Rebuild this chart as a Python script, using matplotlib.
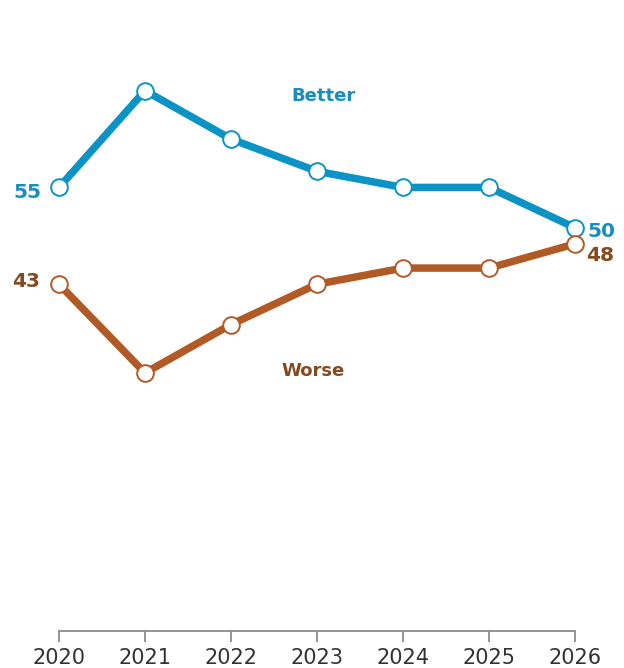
import matplotlib
matplotlib.use("Agg")
import matplotlib.pyplot as plt

years = [2020, 2021, 2022, 2023, 2024, 2025, 2026]
better = [55, 67, 61, 57, 55, 55, 50]
worse = [43, 32, 38, 43, 45, 45, 48]
year_labels = [str(y) for y in years]

BLUE = "#0B93C6"
BLUE_TXT = "#1A8DC0"
BROWN = "#B25A26"
BROWN_TXT = "#854A1E"

fig = plt.figure(figsize=(6.24, 6.68), dpi=100)
ax = fig.add_axes([59 / 624, 37 / 668, 516 / 624, 621 / 668])
ax.set_xlim(years[0], years[-1])
ax.set_ylim(0, 77)

for vals, col in [(better, BLUE), (worse, BROWN)]:
    ax.plot(years, vals, color=col, lw=5.4, solid_capstyle="round",
            marker="o", ms=12, mfc="white", mec=col, mew=1.4,
            clip_on=False, zorder=3)

font = dict(family="DejaVu Sans", fontweight="bold")
ax.text(years[0] - 0.2, better[0] - 0.6, str(better[0]), color=BLUE_TXT,
        fontsize=14.5, ha="right", va="center", **font)
ax.text(years[0] - 0.22, worse[0] + 0.3, str(worse[0]), color=BROWN_TXT,
        fontsize=14.5, ha="right", va="center", **font)
ax.text(years[-1] + 0.14, better[-1] - 0.5, str(better[-1]), color=BLUE_TXT,
        fontsize=14.5, ha="left", va="center", **font)
ax.text(years[-1] + 0.13, worse[-1] - 1.5, str(worse[-1]), color=BROWN_TXT,
        fontsize=14.5, ha="left", va="center", **font)
ax.text(2023.07, 66.3, "Better", color=BLUE_TXT, fontsize=13,
        ha="center", va="center", **font)
ax.text(2022.95, 32.3, "Worse", color=BROWN_TXT, fontsize=13,
        ha="center", va="center", **font)

for s in ["top", "right", "left"]:
    ax.spines[s].set_visible(False)
ax.spines["bottom"].set_color("#8a8a8a")
ax.spines["bottom"].set_linewidth(1.3)
ax.set_yticks([])
ax.set_xticks(years)
ax.set_xticklabels(year_labels, fontsize=15, color="#333333")
ax.tick_params(axis="x", length=8, width=1.3, color="#8a8a8a", pad=4)

fig.savefig("out.png", dpi=100, facecolor="white")
